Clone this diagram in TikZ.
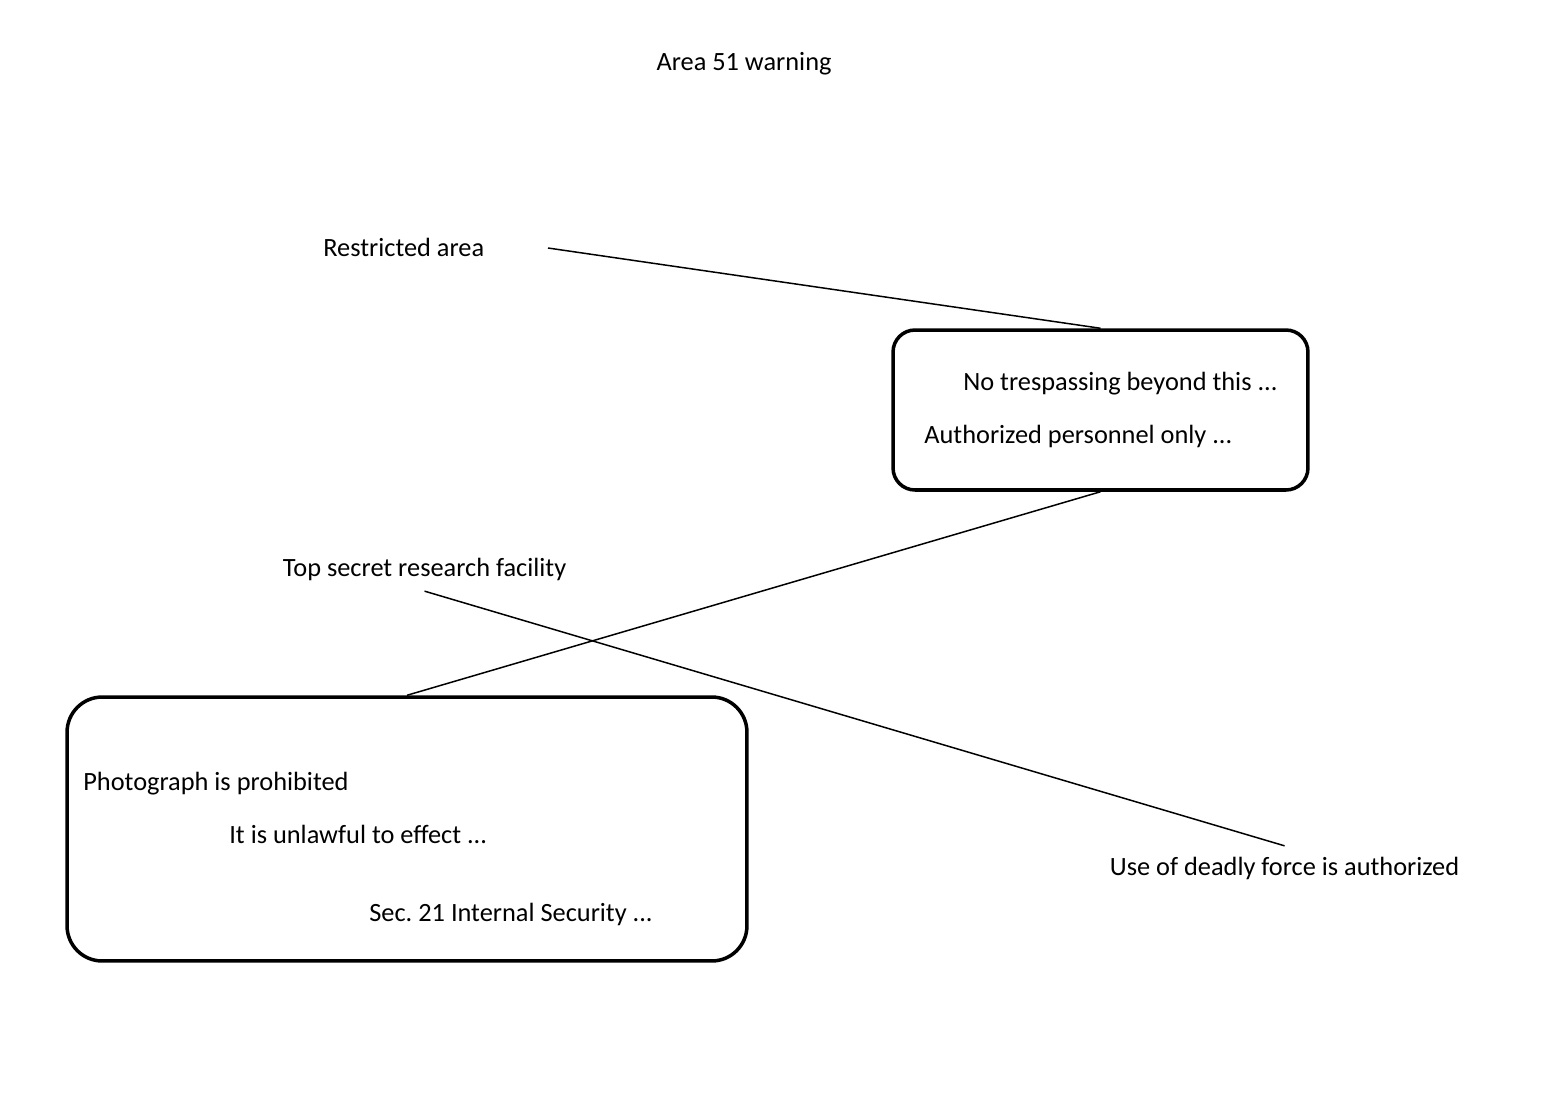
\documentclass[tikz,border=0pt]{standalone}
\usepackage{fontspec}
\setmainfont{Carlito}
\usepackage{tikz}
\usetikzlibrary{shapes,positioning}
\frenchspacing

\tikzset{
  box/.style={rectangle, draw, line width=2pt, fill=none},
  lbl/.style={text=black, inner sep=0pt, anchor=base west, font=\fontsize{15}{18}\selectfont},
  link/.style={line width=0.85pt}
}

\begin{document}
\begin{tikzpicture}[x=0.02cm, y=-0.02cm]

 \useasboundingbox (0,0) rectangle (1549,1100);

 \node[lbl, anchor=base] (title) at (744,70.5) {Area 51 warning};

 \node[lbl] (ra) at (323,256.5) {Restricted area};
 \coordinate (ra-tip) at (548,248);

 \node[box, rounded corners=12.5pt, minimum width = 8.3cm,
    minimum height = 3.2cm] (b1) at (1100.5,410) {};

 \node[lbl] (nt) at (963,390) {No trespassing beyond this ...};

 \node[lbl] (ap) at (924,443) {Authorized personnel only ...};

 \node[box, rounded corners=20pt, minimum width = 13.6cm,
    minimum height = 5.28cm] (b2) at (407,829) {};

 \node[lbl] (ph) at (83,790) {Photograph is prohibited};

 \node[lbl] (ul) at (229,843) {It is unlawful to effect ...};

 \node[lbl] (sec) at (369,921) {Sec. 21 Internal Security ...};

 \node[lbl, inner sep=6pt] (ts) at (272,576) {Top secret research facility};

 \node[lbl, inner sep=6pt] (ud) at (1099,875) {Use of deadly force is authorized};

\draw [link] (ra-tip) -- (b1.north);
\draw [link] (b1.south) -- (b2.north);
\draw [link] (ts.south) -- (ud.north);

\end{tikzpicture}
\end{document}
